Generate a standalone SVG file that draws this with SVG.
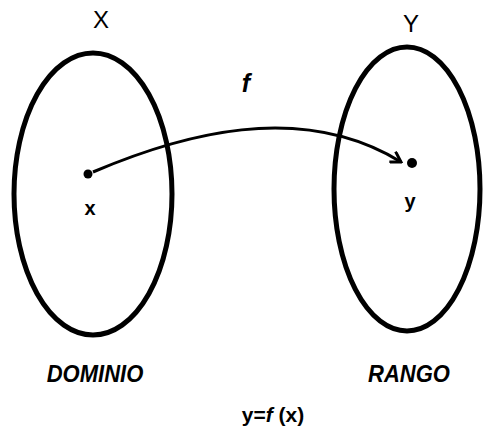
<svg xmlns="http://www.w3.org/2000/svg" width="486" height="433" viewBox="0 0 486 433">
<style>
.set{fill:none;stroke:#000;stroke-width:5}
.lbl{font-family:"Liberation Sans",Arial,sans-serif;fill:#000}
.b{font-weight:bold}
.bi{font-weight:bold;font-style:italic}
</style>
<defs>
<marker id="arr" markerWidth="14" markerHeight="14" refX="12" refY="7" orient="auto" markerUnits="userSpaceOnUse">
<path d="M2,1 L12,7 L2,13" fill="none" stroke="#000" stroke-width="3" stroke-linejoin="miter"/>
</marker>
</defs>
<rect width="486" height="433" fill="#fff"/>
<g id="domain">
<ellipse class="set" cx="93" cy="194" rx="79" ry="141"/>
<text class="lbl" x="101" y="28" font-size="24" text-anchor="middle">X</text>
<circle cx="88" cy="174" r="4.5" fill="#000"/>
<text class="lbl b" x="90" y="215" font-size="20" text-anchor="middle">x</text>
<text class="lbl bi" x="95" y="382" font-size="22" text-anchor="middle" transform="translate(0,382) scale(1,1.12) translate(0,-382)">DOMINIO</text>
</g>
<g id="range">
<ellipse class="set" cx="407" cy="189" rx="73" ry="142"/>
<text class="lbl" x="411" y="32" font-size="24" text-anchor="middle">Y</text>
<circle cx="412" cy="163" r="5" fill="#000"/>
<text class="lbl b" x="410" y="208" font-size="20" text-anchor="middle">y</text>
<text class="lbl bi" x="409" y="382" font-size="22" text-anchor="middle" transform="translate(0,382) scale(1,1.12) translate(0,-382)">RANGO</text>
</g>
<g id="connectors">
<path d="M93,172 C180,135 300,100 401,162" fill="none" stroke="#000" stroke-width="3" marker-end="url(#arr)"/>
</g>
<g id="labels">
<text class="lbl bi" x="246" y="92" font-size="25" text-anchor="middle">f</text>
<text class="lbl b" x="273" y="422" font-size="21" text-anchor="middle">y=<tspan font-style="italic">f</tspan> (x)</text>
</g>
</svg>
